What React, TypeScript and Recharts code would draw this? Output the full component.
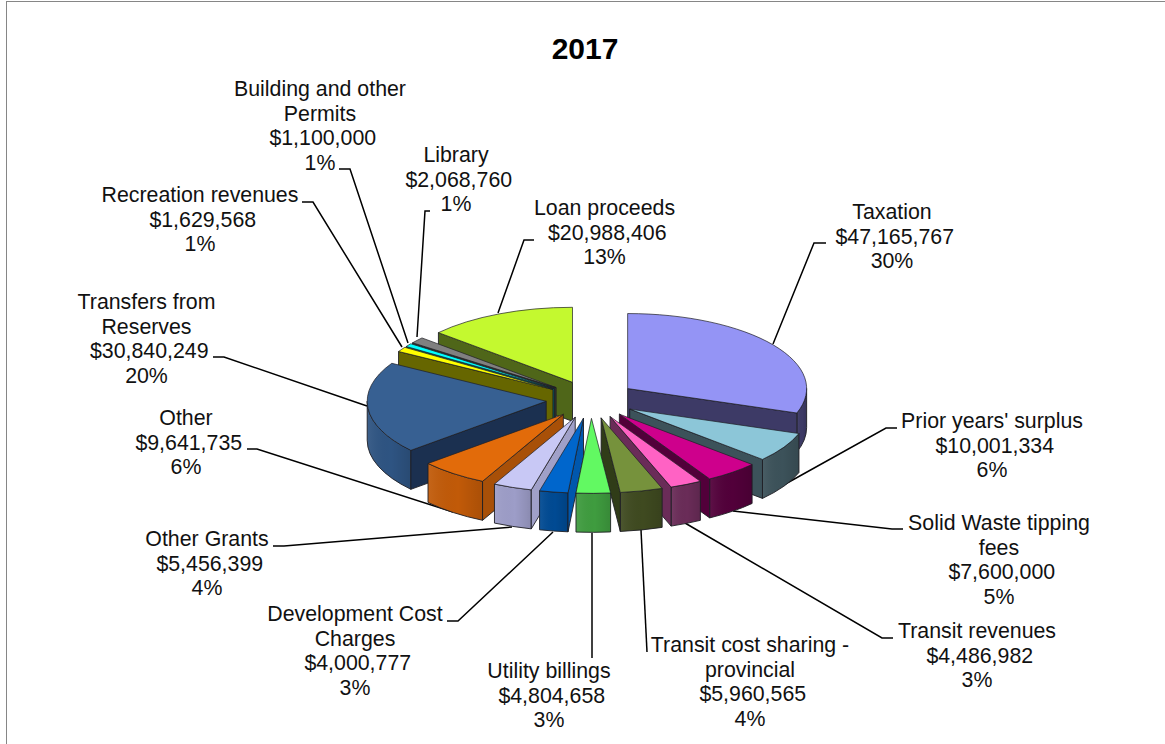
import { PieChart, Pie } from "recharts";

const categories = [
  "Taxation", "Prior years' surplus", "Solid Waste tipping fees", "Transit revenues",
  "Transit cost sharing - provincial", "Utility billings", "Development Cost Charges",
  "Other Grants", "Other", "Transfers from Reserves", "Recreation revenues",
  "Building and other Permits", "Library", "Loan proceeds",
];
const amounts = [
  47165767, 10001334, 7600000, 4486982, 5960565, 4804658, 4000777,
  5456399, 9641735, 30840249, 1629568, 1100000, 2068760, 20988406,
];
const percents = [30, 6, 5, 3, 4, 3, 3, 4, 6, 20, 1, 1, 1, 13];

const topColors = ["#9494f5", "#8cc6d8", "#ce008c", "#ff62c4", "#76923c", "#62f962", "#0066cc", "#c8c8f5", "#e26b0a", "#376092", "#ffff00", "#00ffff", "#808080", "#c4f92f"];
const cutColors = ["#3d3a66", "#3c525a", "#52003a", "#6a2c58", "#303c18", "#3f9c3f", "#0057ad", "#a0a0c8", "#a85008", "#1b3050", "#666600", "#006666", "#333333", "#4f6619"];
const wallColors = ["#3d3a66", "#3c525a", "#52003a", "#6a2c58", "#3f4a20", "#3f9c3f", "#004a93", "#9d9dc8", "#c15a08", "#2e5482", "#666600", "#006666", "#333333", "#4f6619"];

// where each label sits: wrapped name, centre x, first line y, leader line
const labelLayout = [
  { lines: ["Taxation"], x: 892, y: 219, leader: "M826 243 L814 243 L773 344" },
  { lines: ["Prior years' surplus"], x: 992, y: 428, leader: "M897 428 L886 428 L780 487" },
  { lines: ["Solid Waste tipping", "fees"], x: 999, y: 530, leader: "M903 529 L892 529 L733 511" },
  { lines: ["Transit revenues"], x: 977, y: 638, leader: "M893 638 L882 638 L685 523" },
  { lines: ["Transit cost sharing -", "provincial"], x: 750, y: 652, leader: "M647 652 L641 530" },
  { lines: ["Utility billings"], x: 549, y: 678, leader: "M592 658 L592 533" },
  { lines: ["Development Cost", "Charges"], x: 355, y: 621, leader: "M447 621 L458 621 L553 532" },
  { lines: ["Other Grants"], x: 207, y: 546, leader: "M273 546 L284 546 L512 527" },
  { lines: ["Other"], x: 186, y: 425, leader: "M247 449 L257 449 L453 512" },
  { lines: ["Transfers from", "Reserves"], x: 146.5, y: 309, leader: "M213 357 L224 357 L367 406" },
  { lines: ["Recreation revenues"], x: 200, y: 202, leader: "M302 202 L313 202 L402 347" },
  { lines: ["Building and other", "Permits"], x: 320, y: 96, leader: "M339 169 L350 169 L408 343" },
  { lines: ["Library"], x: 456, y: 162, leader: "M430 211 L425 211 L417 337" },
  { lines: ["Loan proceeds"], x: 604.5, y: 215, leader: "M534 240 L524 240 L498 313" },
];

const slices = categories.map((name, i) => ({
  name,
  value: amounts[i],
  top: topColors[i],
  cut: cutColors[i],
  wall: wallColors[i],
}));

// painted back to front: the right side clockwise, the left side counter-clockwise
const rightSlices = slices.slice(0, 5);
const leftSlices = slices.slice(5).reverse();
const total = amounts.reduce((a, b) => a + b, 0);
const rightSweep = (rightSlices.reduce((a, s) => a + s.value, 0) / total) * 360;

const RADIUS = 179;
const TILT = 75 / 179;
const DEPTH = 39;
const EXPLODE = 45;
const EDGE = "#1e1e24";
const DOLLAR_SHIFT = 2.75;

function Slice3D(props: any) {
  const { cx, cy, outerRadius: r, startAngle, endAngle, payload } = props;
  const a1 = Math.min(startAngle, endAngle);
  const a2 = Math.max(startAngle, endAngle);
  const rad = (d: number) => (d * Math.PI) / 180;
  const mid = rad((a1 + a2) / 2);
  const ox = cx + EXPLODE * Math.cos(mid);
  const oy = cy - EXPLODE * TILT * Math.sin(mid);
  const rx = r;
  const ry = r * TILT;
  const px = (a: number) => ox + rx * Math.cos(rad(a));
  const py = (a: number) => oy - ry * Math.sin(rad(a));
  const large = a2 - a1 > 180 ? 1 : 0;

  const walls: any[] = [];
  for (let k = -1; k <= 1; k++) {
    const lo = Math.max(a1, 180 + 360 * k);
    const hi = Math.min(a2, 360 + 360 * k);
    if (lo < hi) {
      const d = `M${px(lo)} ${py(lo)} A${rx} ${ry} 0 0 0 ${px(hi)} ${py(hi)} L${px(hi)} ${py(hi) + DEPTH} A${rx} ${ry} 0 0 1 ${px(lo)} ${py(lo) + DEPTH} Z`;
      walls.push(
        <g key={`w${k}`}>
          <path d={d} fill={payload.wall} />
          <path d={d} fill="url(#wallShade)" stroke={EDGE} strokeWidth={0.9} />
        </g>
      );
    }
  }

  const midX = px((a1 + a2) / 2) - ox;
  const midY = py((a1 + a2) / 2) - oy;
  const cuts = [a1, a2].map((a) => {
    const ex = px(a) - ox;
    const ey = py(a) - oy;
    // a cut face shows only when the slice lies above that edge on screen
    const inside = ex * midY - ey * midX;
    if (inside * ex >= 0) return null;
    return (
      <path
        key={`c${a}`}
        d={`M${ox} ${oy} L${px(a)} ${py(a)} L${px(a)} ${py(a) + DEPTH} L${ox} ${oy + DEPTH} Z`}
        fill={payload.cut}
        stroke={EDGE}
        strokeWidth={0.9}
      />
    );
  });

  return (
    <g>
      {walls}
      {cuts}
      <path
        d={`M${ox} ${oy} L${px(a1)} ${py(a1)} A${rx} ${ry} 0 ${large} 0 ${px(a2)} ${py(a2)} Z`}
        fill={payload.top}
        stroke={EDGE}
        strokeWidth={0.7}
      />
    </g>
  );
}

const FONT = "'Liberation Sans', Arial, sans-serif";

export default function App() {
  return (
    <div style={{ position: "absolute", left: 0, top: 0, width: 1165, height: 744, overflow: "hidden", background: "#fff" }}>
      <PieChart width={1165} height={744} margin={{ top: 0, right: 0, bottom: 0, left: 0 }}>
        <defs>
          <linearGradient id="wallShade" x1="0" y1="0" x2="1" y2="0">
            <stop offset="0%" stopColor="#ffffff" stopOpacity={0.07} />
            <stop offset="55%" stopColor="#000000" stopOpacity={0} />
            <stop offset="100%" stopColor="#000000" stopOpacity={0.12} />
          </linearGradient>
        </defs>
        <rect x={6.5} y={1.5} width={1300} height={900} fill="none" stroke="#868686" />
        <Pie
          data={rightSlices}
          dataKey="value"
          cx={591}
          cy={399.5}
          innerRadius={0}
          outerRadius={RADIUS}
          startAngle={90}
          endAngle={90 - rightSweep}
          shape={Slice3D}
          isAnimationActive={false}
        />
        <Pie
          data={leftSlices}
          dataKey="value"
          cx={591}
          cy={399.5}
          innerRadius={0}
          outerRadius={RADIUS}
          startAngle={90}
          endAngle={90 + (360 - rightSweep)}
          shape={Slice3D}
          isAnimationActive={false}
        />
        <text x={585} y={59} textAnchor="middle" fontFamily={FONT} fontWeight="bold" fontSize={30} fill="#000">
          2017
        </text>
        {labelLayout.map((l, i) => {
          const rows = [...l.lines, `$${amounts[i].toLocaleString("en-US")}`, `${percents[i]}%`];
          return (
            <g key={categories[i]}>
              <path d={l.leader} fill="none" stroke="#000" strokeWidth={1.5} />
              <text textAnchor="middle" fontFamily={FONT} fontSize={21.33} fill="#111">
                {rows.map((row, j) => (
                  <tspan key={j} x={j === l.lines.length ? l.x + DOLLAR_SHIFT : l.x} y={l.y + j * 24.5}>
                    {row}
                  </tspan>
                ))}
              </text>
            </g>
          );
        })}
      </PieChart>
    </div>
  );
}
